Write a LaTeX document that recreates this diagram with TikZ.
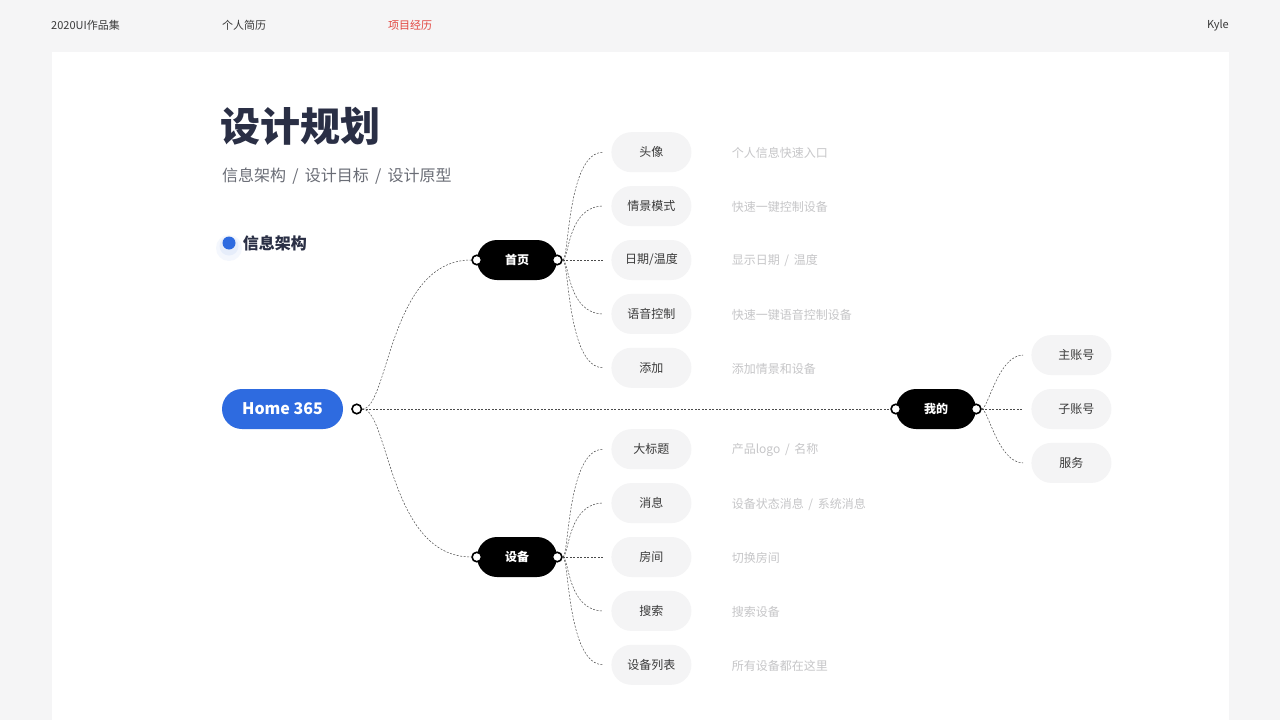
\documentclass[tikz,border=0pt]{standalone}
\usepackage{fontspec}
\setmainfont{Noto Sans CJK SC}
\usetikzlibrary{positioning}
\usetikzlibrary{calc}

\definecolor{pagebg}{HTML}{F5F5F6}
\definecolor{bartext}{HTML}{3A3A3A}
\definecolor{barred}{HTML}{E2453F}
\definecolor{titledark}{HTML}{2A2F45}
\definecolor{subgray}{HTML}{6A6D76}
\definecolor{homeblue}{HTML}{2E6BE0}
\definecolor{leafgray}{HTML}{F4F4F5}
\definecolor{leaftext}{HTML}{3A3A3A}
\definecolor{notegray}{HTML}{C6C6C8}
\definecolor{linegray}{HTML}{4A4A4A}

\begin{document}
\begin{tikzpicture}[x=1pt,y=-1pt]
\tikzset{
root/.style = {rectangle,fill=homeblue,text=white,
               rounded corners=20pt,
               minimum width=121pt,
               minimum height=40pt,
               font=\fontsize{16}{16}\selectfont\bfseries},
hub/.style  = {rectangle,fill=black,text=white,
               rounded corners=20pt,
               minimum width=80pt,
               minimum height=40pt,
               font=\fontsize{12}{12}\selectfont\bfseries},
leaf/.style = {rectangle,fill=leafgray,text=leaftext,
               rounded corners=20pt,
               minimum width=80pt,
               minimum height=40pt,
               font=\fontsize{12}{12}\selectfont},
note/.style = {anchor=west,inner sep=0pt,text=notegray,
               yshift=-1pt,
               font=\fontsize{12}{12}\selectfont},
port/.style = {circle,draw=black,fill=white,
               line width=1.6pt,
               minimum size=9.5pt,
               inner sep=0pt},
link/.style = {draw=linegray,line width=0.5pt,
               dash pattern=on 2pt off 1.5pt},
bar/.style  = {inner sep=0pt,
               font=\fontsize{11}{11}\selectfont}
}

\useasboundingbox (0,0) rectangle (1280,720);
\fill[pagebg] (0,0) rectangle (1280,720);
\fill[white] (52,52) rectangle (1229,720);

\node[bar,anchor=west,text=bartext] (T1) at (51,25)   {2020UI作品集};
\node[bar,anchor=west,text=bartext] (T2) at (222,25)  {个人简历};
\node[bar,anchor=west,text=barred]  (T3) at (388,25)  {项目经历};
\node[bar,anchor=east,text=bartext] (T4) at (1229,25) {Kyle};

\node[anchor=west,inner sep=0pt,text=titledark,
      font=\fontsize{40}{40}\selectfont\bfseries] (title) at (220,126) {设计规划};
\node[anchor=west,inner sep=0pt,text=subgray,
      font=\fontsize{16}{16}\selectfont] (sub) at (222,176) {信息架构 \,/\, 设计目标 \,/\, 设计原型};

\fill[homeblue,opacity=0.05] (229,248) circle (13);
\fill[homeblue,opacity=0.07] (229,246) circle (9.5);
\node[circle,fill=homeblue,minimum size=13pt,inner sep=0pt] (dot) at (229,243) {};
\node[right=7pt of dot,inner sep=0pt,text=titledark,
      font=\fontsize{16}{16}\selectfont\bfseries] (sec) {信息架构};

\node[root] (H) at (282.5,409) {Home 365};
\node[port,right=8pt of H] (Hr) {};

\node[hub] (P) at (517,260) {首页};
\node[hub] (D) at (517,557) {设备};
\node[hub] (M) at (936,409) {我的};

\node[port] (Pl) at (P.west) {};
\node[port] (Pr) at (P.east) {};
\node[port] (Dl) at (D.west) {};
\node[port] (Dr) at (D.east) {};
\node[port] (Ml) at (M.west) {};
\node[port] (Mr) at (M.east) {};

\node[leaf,right=54pt of P]    (P3) {日期/温度};
\node[leaf,above=13.5pt of P3] (P2) {情景模式};
\node[leaf,above=13.5pt of P2] (P1) {头像};
\node[leaf,below=13.5pt of P3] (P4) {语音控制};
\node[leaf,below=13.5pt of P4] (P5) {添加};

\node[leaf,right=54pt of D]    (D3) {房间};
\node[leaf,above=13.5pt of D3] (D2) {消息};
\node[leaf,above=13.5pt of D2] (D1) {大标题};
\node[leaf,below=13.5pt of D3] (D4) {搜索};
\node[leaf,below=13.5pt of D4] (D5) {设备列表};

\node[leaf,right=55pt of M]    (M2) {\hspace{10pt}子账号};
\node[leaf,above=13.5pt of M2] (M1) {\hspace{10pt}主账号};
\node[leaf,below=13.5pt of M2] (M3) {服务};

\node[note,right=40pt of P1] (N1) {个人信息快速入口};
\node[note,right=40pt of P2] (N2) {快速一键控制设备};
\node[note,right=40pt of P3] (N3) {显示日期 \,/\, 温度};
\node[note,right=40pt of P4] (N4) {快速一键语音控制设备};
\node[note,right=40pt of P5] (N5) {添加情景和设备};

\node[note,right=40pt of D1] (N6)  {产品logo \,/\, 名称};
\node[note,right=40pt of D2] (N7)  {设备状态消息 \,/\, 系统消息};
\node[note,right=40pt of D3] (N8)  {切换房间};
\node[note,right=40pt of D4] (N9)  {搜索设备};
\node[note,right=40pt of D5] (N10) {所有设备都在这里};

\draw[link] (Hr) .. controls +(32,0) and +(-88,0) .. (Pl);
\draw[link] (Hr) .. controls +(32,0) and +(-88,0) .. (Dl);
\draw[link] (Hr) -- (Ml);

\draw[link] (Pr) .. controls +(12,0) and +(-36,0) .. ([xshift=-8pt]P1.west);
\draw[link] (Pr) .. controls +(12,0) and +(-36,0) .. ([xshift=-8pt]P2.west);
\draw[link] (Pr) -- ([xshift=-8pt]P3.west);
\draw[link] (Pr) .. controls +(12,0) and +(-36,0) .. ([xshift=-8pt]P4.west);
\draw[link] (Pr) .. controls +(12,0) and +(-36,0) .. ([xshift=-8pt]P5.west);

\draw[link] (Dr) .. controls +(12,0) and +(-36,0) .. ([xshift=-8pt]D1.west);
\draw[link] (Dr) .. controls +(12,0) and +(-36,0) .. ([xshift=-8pt]D2.west);
\draw[link] (Dr) -- ([xshift=-8pt]D3.west);
\draw[link] (Dr) .. controls +(12,0) and +(-36,0) .. ([xshift=-8pt]D4.west);
\draw[link] (Dr) .. controls +(12,0) and +(-36,0) .. ([xshift=-8pt]D5.west);

\draw[link] (Mr) .. controls +(12,0) and +(-25,0) .. ([xshift=-8pt]M1.west);
\draw[link] (Mr) -- ([xshift=-8pt]M2.west);
\draw[link] (Mr) .. controls +(12,0) and +(-25,0) .. ([xshift=-8pt]M3.west);
\end{tikzpicture}
\end{document}
